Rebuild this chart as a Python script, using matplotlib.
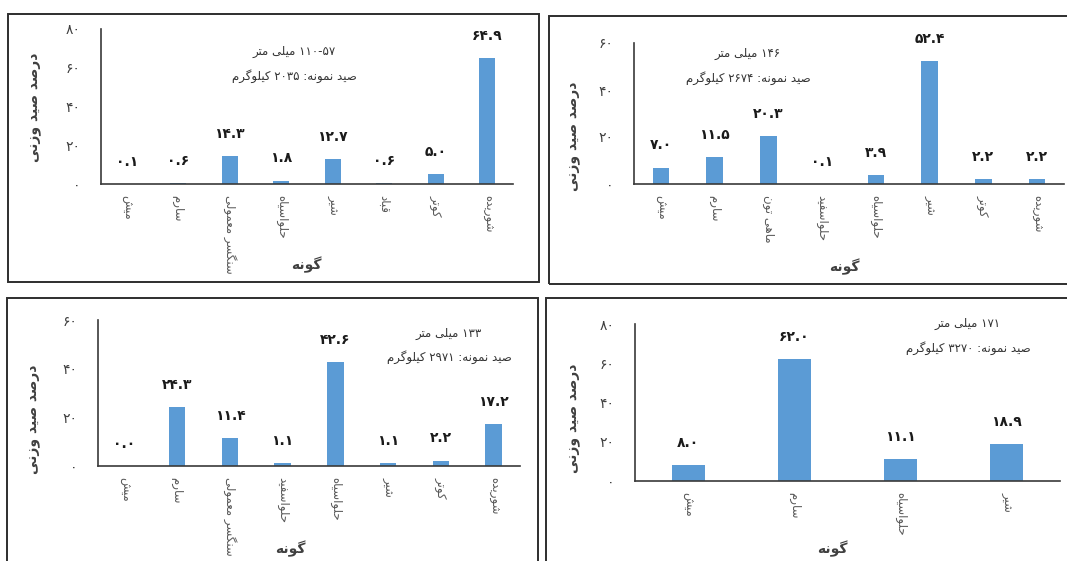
import matplotlib
matplotlib.use('Agg')
import matplotlib.pyplot as plt
from matplotlib.patches import Rectangle

plt.rcParams['font.family'] = ['DejaVu Sans']

# weight percent of catch per species, one list pair per mesh size
species_a = ['میش', 'سارم', 'سنگسر معمولی', 'حلواسیاه', 'شیر', 'قباد', 'کوتر', 'شوریده']
percent_a = [0.1, 0.6, 14.3, 1.8, 12.7, 0.6, 5.0, 64.9]
size_a = '57-110'
catch_a = '2035'

species_b = ['میش', 'سارم', 'ماهی تون', 'حلواسفید', 'حلواسیاه', 'شیر', 'کوتر', 'شوریده']
percent_b = [7.0, 11.5, 20.3, 0.1, 3.9, 52.4, 2.2, 2.2]
size_b = '146'
catch_b = '2674'

species_c = ['میش', 'سارم', 'سنگسر معمولی', 'حلواسفید', 'حلواسیاه', 'شیر', 'کوتر', 'شوریده']
percent_c = [0.0, 24.3, 11.4, 1.1, 42.6, 1.1, 2.2, 17.2]
size_c = '133'
catch_c = '2971'

species_d = ['میش', 'سارم', 'حلواسیاه', 'شیر']
percent_d = [8.0, 62.0, 11.1, 18.9]
size_d = '171'
catch_d = '3270'

y_title = 'درصد صید وزنی'
x_title = 'گونه'

# matplotlib has no arabic shaping / bidi, so do a small one by hand
# (base code point of the presentation forms: isolated, final, initial, medial)
DUAL = {'ب': 0xFE8F, 'ت': 0xFE95, 'ح': 0xFEA1, 'س': 0xFEB1, 'ش': 0xFEB5,
        'ص': 0xFEB9, 'ع': 0xFEC9, 'ف': 0xFED1, 'ق': 0xFED5, 'ک': 0xFB8E,
        'گ': 0xFB92, 'ل': 0xFEDD, 'م': 0xFEE1, 'ن': 0xFEE5, 'ه': 0xFEE9,
        'ی': 0xFBFC}
RIGHT = {'ا': 0xFE8D, 'د': 0xFEA9, 'ر': 0xFEAD, 'ز': 0xFEAF, 'و': 0xFEED}
DIGITS = str.maketrans('0123456789', '۰۱۲۳۴۵۶۷۸۹')


def shape(s):
    out = []
    for i, ch in enumerate(s):
        if ch not in DUAL and ch not in RIGHT:
            out.append(ch)
            continue
        prev = s[i-1] if i > 0 else ''
        nxt = s[i+1] if i+1 < len(s) else ''
        jp = prev in DUAL
        if ch in RIGHT:
            out.append(chr(RIGHT[ch] + (1 if jp else 0)))
        else:
            jn = nxt in DUAL or nxt in RIGHT
            k = 3 if (jp and jn) else 2 if jn else 1 if jp else 0
            out.append(chr(DUAL[ch] + k))
    return ''.join(out)


def fa(s):
    s = shape(s.translate(DIGITS))
    runs = []
    for ch in s:
        num = ch in '۰۱۲۳۴۵۶۷۸۹.'
        if runs and runs[-1][0] == num:
            runs[-1][1] += ch
        else:
            runs.append([num, ch])
    return ''.join(r if num else r[::-1] for num, r in reversed(runs))


W, H = 1067, 561
fig = plt.figure(figsize=(W/100, H/100), dpi=100)

# pixel layout: frame box, plot area, note centre, y title, x title
panels = [
    dict(cats=species_a, vals=percent_a, size=size_a, catch=catch_a, ymax=80,
         box=(8, 14, 539, 282), area=(101, 29, 513, 184),
         note=(294, 52), ylab=(35, 107), xlab=(306, 265)),
    dict(cats=species_b, vals=percent_b, size=size_b, catch=catch_b, ymax=60,
         box=(549, 16, 1072, 284), area=(634, 43, 1064, 184),
         note=(748, 54), ylab=(574, 136), xlab=(844, 267)),
    dict(cats=species_c, vals=percent_c, size=size_c, catch=catch_c, ymax=60,
         box=(7, 298, 538, 566), area=(98, 320, 520, 466),
         note=(449, 333), ylab=(34, 419), xlab=(290, 549)),
    dict(cats=species_d, vals=percent_d, size=size_d, catch=catch_d, ymax=80,
         box=(546, 298, 1072, 566), area=(635, 324, 1060, 481),
         note=(968, 324), ylab=(574, 418), xlab=(832, 549)),
]

for p in panels:
    x0, y0, x1, y1 = p['box']
    fig.patches.append(Rectangle((x0/W, 1-y1/H), (x1-x0)/W, (y1-y0)/H,
                                 transform=fig.transFigure, fill=False,
                                 edgecolor='#2e2e2e', linewidth=1.4))

    l, t, r, b = p['area']
    ax = fig.add_axes([l/W, 1-b/H, (r-l)/W, (b-t)/H])
    n = len(p['cats'])
    ax.bar(range(n), p['vals'], width=0.31, color='#5B9BD5')
    for i, v in enumerate(p['vals']):
        ax.annotate(fa(f'{v:.1f}'), (i, v), xytext=(0, 16), textcoords='offset points',
                    ha='center', va='center', fontsize=10, fontweight='bold', color='#1a1a1a')

    ax.set_xlim(-0.5, n-0.5)
    ax.set_ylim(0, p['ymax'])
    ticks = list(range(0, p['ymax']+1, 20))
    ax.set_yticks(ticks)
    ax.set_yticklabels([fa(str(tk)) for tk in ticks], fontsize=10, color='#404040')
    ax.set_xticks(range(n))
    ax.set_xticklabels([fa(c) for c in p['cats']], rotation=270, ha='center', va='top',
                       fontsize=8.5, color='#595959')
    ax.tick_params(axis='y', length=0, pad=15)
    ax.tick_params(axis='x', length=0, pad=8)
    for side in ['top', 'right']:
        ax.spines[side].set_visible(False)
    for side in ['left', 'bottom']:
        ax.spines[side].set_color('#3a3a3a')
        ax.spines[side].set_linewidth(1.2)
    ax.set_facecolor('none')

    nx, ny = p['note']
    fig.text(nx/W, 1-ny/H, fa(p['size'] + ' میلی متر'), ha='center', va='center',
             fontsize=8.5, color='#333333')
    fig.text(nx/W, 1-(ny+24)/H, fa('صید نمونه: ' + p['catch'] + ' کیلوگرم'),
             ha='center', va='center', fontsize=8.5, color='#333333')
    fig.text(p['ylab'][0]/W, 1-p['ylab'][1]/H, fa(y_title), rotation=90,
             ha='center', va='center', fontsize=10, fontweight='bold', color='#404040')
    fig.text(p['xlab'][0]/W, 1-p['xlab'][1]/H, fa(x_title), ha='center', va='center',
             fontsize=10, fontweight='bold', color='#404040')

fig.savefig('out.png', dpi=100)
